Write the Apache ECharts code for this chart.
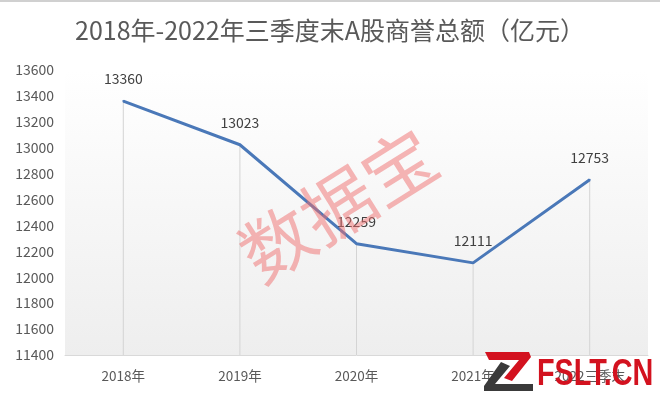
<!DOCTYPE html>
<html>
<head>
<meta charset="utf-8">
<script src="https://cdn.jsdelivr.net/npm/echarts@6/dist/echarts.min.js"></script>
<style>html,body{margin:0;padding:0;background:#fff}#c{width:660px;height:398px}</style>
</head>
<body>
<div id="c"></div>
<script>
const titleText = '2018年-2022年三季度末A股商誉总额（亿元）';
const categories = ['2018年', '2019年', '2020年', '2021年', '2022三季末'];
const goodwill = [13360, 13023, 12259, 12111, 12753];
const yMin = 11400, yMax = 13600, yStep = 200;

const chart = echarts.init(document.getElementById('c'), null, {renderer: 'canvas'});
const font = '"Noto Sans CJK SC", "Noto Sans", sans-serif';
chart.setOption({
  backgroundColor: '#ffffff',
  animation: false,
  title: {
    text: titleText, left: 'center', top: 13,
    textStyle: {fontFamily: font, fontSize: 25, fontWeight: 'normal', color: '#595959'}
  },
  grid: {
    left: 65, right: 12, top: 70, bottom: 43, show: true, borderWidth: 0,
    backgroundColor: {type: 'linear', x: 0, y: 0, x2: 0, y2: 1,
      colorStops: [{offset: 0, color: '#ffffff'}, {offset: 1, color: '#eeeeee'}]}
  },
  xAxis: {
    type: 'category', data: categories, boundaryGap: true,
    axisLine: {lineStyle: {color: '#d9d9d9', width: 1}},
    axisTick: {show: false},
    axisLabel: {fontFamily: font, fontSize: 13.5, color: '#595959', margin: 14}
  },
  yAxis: {
    type: 'value', min: yMin, max: yMax, interval: yStep,
    axisLine: {show: false}, axisTick: {show: false},
    splitLine: {show: false},
    axisLabel: {fontFamily: font, fontSize: 14, color: '#595959', margin: 11,
      formatter: v => String(v)}
  },
  series: [
    {
      type: 'bar', data: goodwill, barWidth: 1, barGap: '-100%',
      itemStyle: {color: '#d4d4d4'}, silent: true, z: 1
    },
    {
      type: 'line', data: goodwill, symbol: 'circle', symbolSize: 2, showSymbol: true, z: 3,
      itemStyle: {color: '#4a78b8'},
      lineStyle: {color: '#4a78b8', width: 3},
      label: {show: true, position: 'top', distance: 14, fontFamily: font, fontSize: 14, color: '#404040'}
    }
  ],
  graphic: [
    {type: 'rect', shape: {x: 0, y: 0, width: 660, height: 2}, style: {fill: '#d0d0d0'}, z: 10},
    {type: 'text', x: 338, y: 205, rotation: 0.56, z: 20,
      style: {text: '数据宝', fontSize: 72, fontFamily: font, fill: 'rgba(240,110,110,0.5)',
        align: 'center', verticalAlign: 'middle'}},
    {type: 'polygon', z: 21,
      shape: {points: [[485,352],[529,352],[531,357],[512,381],[504,378],[519,360],[489,360]]},
      style: {fill: '#d3121f'}},
    {type: 'polygon', z: 21,
      shape: {points: [[501,362],[510,366],[495,384],[533,384],[533,391],[484,391],[484,386]]},
      style: {fill: '#3a3a3a'}},
    {type: 'text', x: 537, y: 375, scaleX: 0.8, z: 21,
      style: {text: 'FSLT.CN', fontSize: 36, fontWeight: 'bold', fontFamily: '"Liberation Sans", sans-serif',
        fill: '#d3121f', align: 'left', verticalAlign: 'middle'}}
  ]
});
</script>
</body>
</html>
